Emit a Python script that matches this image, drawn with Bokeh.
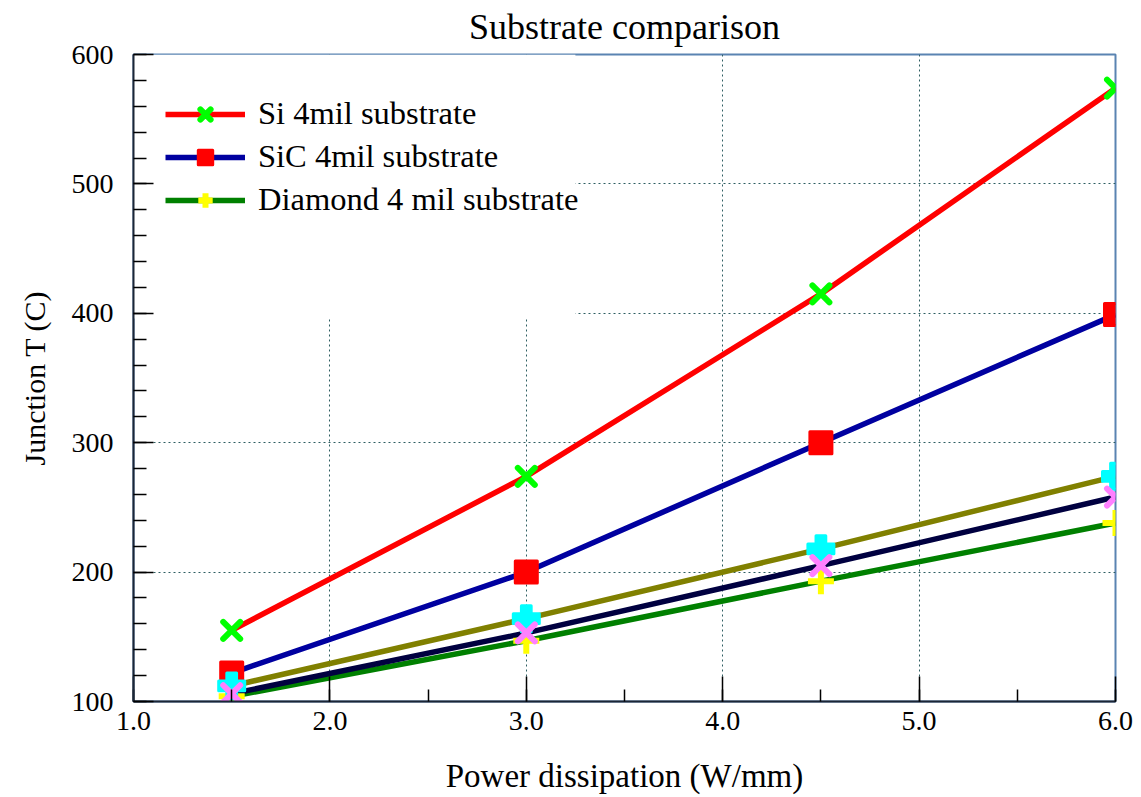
from bokeh.plotting import figure
from bokeh.models import (Legend, LegendItem, BoxAnnotation, SingleIntervalTicker,
                          NumeralTickFormatter, Range1d, Title)
from bokeh.embed import file_html
from bokeh.resources import INLINE

# ---- data ----
power = [1.5, 3.0, 4.5, 6.0]
si_4mil = [155, 274, 415, 574]
sic_4mil = [122, 200, 300, 399]
diamond_4mil = [104, 147, 193, 238]
series_olive = [112, 164, 218, 274]
series_navy = [106, 153, 205, 258]

legend_labels = ["Si 4mil substrate", "SiC 4mil substrate", "Diamond 4 mil substrate"]
title_text = "Substrate comparison"
x_label = "Power dissipation (W/mm)"
y_label = "Junction T (C)"

FONT = "Liberation Serif"

p = figure(width=1133, height=797, output_backend="svg", toolbar_location=None,
           x_range=Range1d(1, 6), y_range=Range1d(100, 600),
           min_border_left=133, min_border_right=18, min_border_top=54, min_border_bottom=96,
           title=Title(text=title_text, text_font=FONT, text_font_size="36px",
                       text_font_style="normal", align="center", vertical_align="top",
                       text_color="black", standoff=11))

p.outline_line_color = "#5a84b2"
p.outline_line_width = 2
p.background_fill_color = "white"
p.border_fill_color = "white"

# axes
p.xaxis.ticker = SingleIntervalTicker(interval=1, num_minor_ticks=2)
p.yaxis.ticker = SingleIntervalTicker(interval=100, num_minor_ticks=5)
p.xaxis.formatter = NumeralTickFormatter(format="0.0")
for ax in (p.xaxis[0], p.yaxis[0]):
    ax.axis_line_color = "#1c2636"
    ax.axis_line_width = 2
    ax.major_tick_line_color = "black"
    ax.minor_tick_line_color = "black"
    ax.major_tick_line_width = 1.5
    ax.minor_tick_line_width = 1.5
    ax.major_tick_out = 0
    ax.minor_tick_out = 0
    ax.major_label_text_font = FONT
    ax.major_label_text_font_size = "28px"
    ax.major_label_text_color = "black"
    ax.axis_label_text_font = FONT
    ax.axis_label_text_font_style = "normal"
    ax.axis_label_text_color = "black"
p.xaxis.major_tick_in = 25
p.xaxis.minor_tick_in = 12
p.yaxis.major_tick_in = 20
p.yaxis.minor_tick_in = 13
p.xaxis.axis_label = x_label
p.yaxis.axis_label = y_label
p.xaxis.axis_label_text_font_size = "33px"
p.yaxis.axis_label_text_font_size = "30px"
p.xaxis.major_label_standoff = 10
p.yaxis.major_label_standoff = 20
p.xaxis.axis_label_standoff = 25
p.yaxis.axis_label_standoff = 18

# grid
for g in (p.xgrid[0], p.ygrid[0]):
    g.grid_line_color = "#2e5e62"
    g.grid_line_dash = "2 3"
    g.grid_line_width = 1

# white area behind legend hiding the grid
p.add_layout(BoxAnnotation(right=3.25, bottom=396, fill_color="white", fill_alpha=1,
                           line_alpha=0, level="underlay"))

# lines
l_si = p.line(power, si_4mil, line_color="#ff0000", line_width=5.5)
l_sic = p.line(power, sic_4mil, line_color="#0000a0", line_width=5.5)
l_dia = p.line(power, diamond_4mil, line_color="#008000", line_width=5.5)
l_ol = p.line(power, series_olive, line_color="#808000", line_width=5.5)
l_nv = p.line(power, series_navy, line_color="#000040", line_width=5.5)

# markers
m_si = p.scatter(power, si_4mil, marker="x", size=24, line_color="#00ff00", line_width=6,
                 line_cap="round")
m_sic = p.scatter(power, sic_4mil, marker="square", size=22, fill_color="#ff0000",
                  line_color="#ff0000", line_width=3, line_join="round")
m_dia = p.scatter(power, diamond_4mil, marker="cross", size=26, line_color="#ffff00",
                  line_width=6)
m_ol = p.scatter(power, series_olive, marker="plus", size=26, fill_color="#00ffff",
                 line_color="#00ffff", line_width=3, line_join="round")
m_nv = p.scatter(power, series_navy, marker="x", size=24, line_color="#ff80ff", line_width=6,
                 line_cap="round")

legend = Legend(items=[
    LegendItem(label=legend_labels[0], renderers=[l_si, m_si]),
    LegendItem(label=legend_labels[1], renderers=[l_sic, m_sic]),
    LegendItem(label=legend_labels[2], renderers=[l_dia, m_dia]),
], location=(32, 483))
legend.margin = 0
legend.padding = 0
legend.spacing = 6
legend.glyph_width = 80
legend.glyph_height = 36
legend.label_height = 36
legend.label_standoff = 13
legend.label_text_font = FONT
legend.label_text_font_size = "32.5px"
legend.label_text_color = "black"
legend.background_fill_alpha = 0
legend.border_line_alpha = 0
p.add_layout(legend)

open("out.html", "w").write(file_html(p, INLINE))
